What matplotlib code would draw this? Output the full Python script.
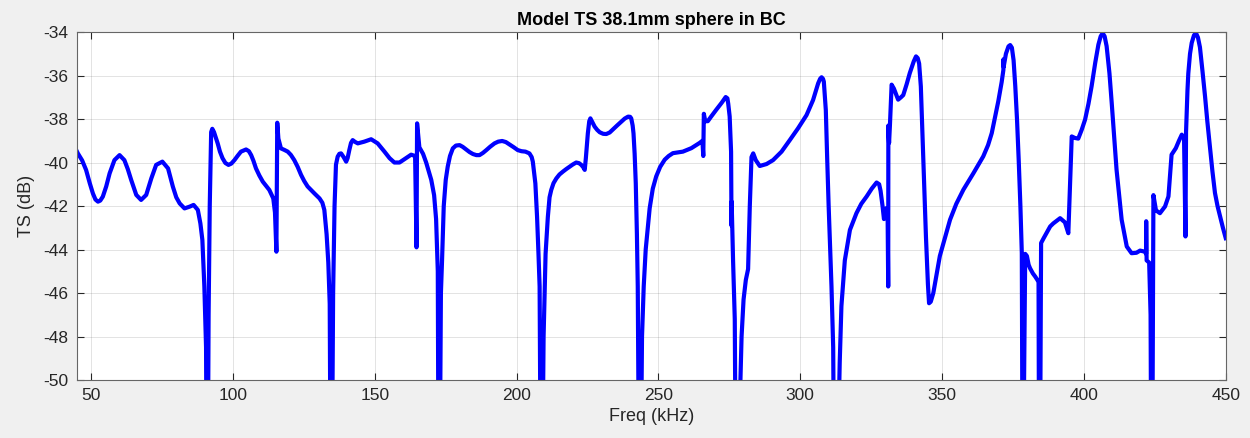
import matplotlib
matplotlib.use("Agg")
import matplotlib.pyplot as plt

# Target strength of a 38.1 mm sphere (model) in
# five stretches. -60 marks points where the curve drops off the bottom.
f_seg1 = [45.0, 45.3, 46.8, 48.2, 49.5, 50.6, 51.5, 52.4, 53.2, 54.1,
          55.3, 56.5, 58.2, 60.0, 61.7, 62.9, 64.1, 65.9, 67.6, 69.4,
          71.2, 72.9, 75.1, 77.1, 78.8, 80.0, 81.2, 82.9, 84.7, 86.1,
          87.6, 88.5, 89.2, 89.9, 90.5, 90.9, 91.4, 91.8, 92.3, 92.7,
          93.3, 94.6, 95.4, 96.3, 97.3, 98.4, 99.4, 100.5, 101.7, 102.8,
          104.6, 105.6, 106.4, 107.2, 108.1, 109.3, 110.5, 112.8, 114.2, 114.8,
          115.3, 115.6, 116.0, 116.9, 118.1, 119.3, 120.4, 121.6, 122.8, 124.0,
          125.1, 126.3, 128.7, 130.5, 131.5, 132.2, 133.0, 133.6, 134.1, 134.6]
ts_seg1 = [-39.5, -39.58, -39.9, -40.34, -40.95, -41.42, -41.7, -41.8, -41.75, -41.57,
           -41.1, -40.5, -39.89, -39.66, -39.89, -40.3, -40.8, -41.49, -41.72, -41.49,
           -40.73, -40.11, -39.96, -40.27, -41.11, -41.6, -41.88, -42.11, -42.03, -41.95,
           -42.18, -42.8, -43.56, -45.7, -48.5, -60.0, -47.0, -42.0, -38.6, -38.45,
           -38.6, -39.12, -39.5, -39.8, -40.02, -40.11, -40.05, -39.89, -39.68, -39.5,
           -39.4, -39.48, -39.66, -39.92, -40.27, -40.6, -40.88, -41.26, -41.65, -42.3,
           -44.1, -38.17, -38.9, -39.35, -39.42, -39.5, -39.65, -39.89, -40.2, -40.57,
           -40.85, -41.1, -41.42, -41.65, -41.85, -42.18, -43.3, -44.6, -46.5, -60.0]

f_seg2 = [135.3, 135.8, 136.3, 136.9, 137.5, 138.1, 139.0, 139.9, 140.4, 141.0,
          141.6, 142.2, 143.0, 144.0, 146.3, 148.7, 151.0, 153.4, 155.2, 156.9,
          158.7, 161.0, 162.8, 164.2, 164.7, 164.9, 165.7, 167.0, 168.1, 169.9,
          170.9, 171.6, 172.2, 172.6, 173.3, 173.7, 174.3, 175.0, 175.7, 176.5,
          177.5, 178.6, 179.9, 181.0, 182.2, 183.4, 184.6, 185.8, 186.9, 188.1,
          189.3, 190.7, 192.2, 193.5, 194.9, 196.2, 197.5, 199.0, 200.4, 201.7,
          203.1, 204.5, 205.3, 205.7, 206.6, 207.2, 207.7, 208.1, 208.7, 209.5,
          210.2, 211.0, 211.6, 212.2, 213.0, 214.0, 215.1, 216.3, 217.5, 218.7,
          219.8, 221.0, 222.0, 222.8, 223.5, 224.0, 224.4, 225.1, 225.6, 226.0,
          226.7, 227.5, 228.4, 229.3, 230.5, 231.6, 232.8, 234.0, 235.4, 236.9,
          238.1, 239.3, 240.0, 240.4, 240.9, 241.2, 241.6, 242.0, 242.4, 242.7,
          243.4]
ts_seg2 = [-46.0, -42.0, -40.1, -39.73, -39.6, -39.58, -39.75, -39.96, -39.8, -39.43,
           -39.1, -38.97, -39.05, -39.12, -39.04, -38.93, -39.12, -39.5, -39.8, -40.0,
           -40.0, -39.8, -39.64, -39.7, -43.9, -38.2, -39.3, -39.6, -40.0, -40.8,
           -41.5, -42.6, -45.0, -60.0, -46.0, -44.5, -42.0, -40.8, -40.19, -39.7,
           -39.35, -39.22, -39.2, -39.28, -39.4, -39.52, -39.61, -39.66, -39.66, -39.56,
           -39.43, -39.27, -39.12, -39.04, -39.01, -39.06, -39.17, -39.3, -39.43, -39.48,
           -39.5, -39.58, -39.75, -39.96, -40.96, -42.5, -44.2, -45.7, -60.0, -48.0,
           -44.2, -42.5, -41.6, -41.26, -40.95, -40.73, -40.55, -40.42, -40.3, -40.19,
           -40.09, -40.0, -40.03, -40.11, -40.22, -40.34, -39.8, -38.66, -38.1, -37.97,
           -38.15, -38.35, -38.5, -38.61, -38.68, -38.69, -38.62, -38.47, -38.3, -38.12,
           -37.98, -37.89, -37.9, -37.97, -38.3, -38.66, -39.6, -40.96, -43.3, -45.7,
           -60.0]

f_seg3 = [244.2, 244.8, 245.5, 246.3, 246.9, 248.0, 249.2, 250.6, 252.2, 253.6,
          255.1, 258.6, 261.6, 264.5, 265.5, 265.8, 266.0, 266.5, 267.4, 268.5,
          270.4, 272.3, 273.7, 274.3, 274.6, 275.1, 275.6, 275.7, 275.75, 275.8,
          276.3, 276.9, 277.5, 278.5, 279.3, 280.0, 280.8, 281.6, 282.2, 282.8,
          283.4, 284.3, 285.7, 288.1, 290.4, 293.4, 296.3, 299.2, 302.2, 304.5,
          305.5, 306.3, 307.0, 307.5, 308.0, 308.3, 309.0, 309.5, 310.0, 310.5,
          311.0, 311.6, 312.2]
ts_seg3 = [-48.0, -45.7, -44.0, -42.9, -42.1, -41.2, -40.64, -40.2, -39.87, -39.7,
           -39.57, -39.5, -39.34, -39.1, -39.0, -39.7, -37.76, -38.1, -38.1, -37.9,
           -37.57, -37.25, -36.99, -37.05, -37.3, -37.88, -39.5, -42.2, -42.9, -41.8,
           -44.5, -47.2, -60.0, -52.0, -48.0, -46.3, -45.4, -44.9, -42.0, -39.75,
           -39.58, -39.89, -40.16, -40.07, -39.89, -39.5, -38.97, -38.43, -37.82, -37.13,
           -36.7, -36.36, -36.15, -36.08, -36.15, -36.28, -37.59, -39.89, -42.0, -43.8,
           -45.7, -48.5, -60.0]

f_seg4 = [313.0, 313.9, 314.5, 315.7, 317.5, 319.8, 321.5, 323.4, 325.2, 326.9,
          327.8, 328.3, 329.0, 329.5, 330.3, 330.8, 331.0, 331.05, 331.3, 331.6,
          332.2, 333.0, 334.5, 335.5, 336.3, 337.5, 338.6, 340.0, 340.8, 341.4,
          341.9, 342.5, 343.3, 344.3, 345.0, 345.4, 346.0, 346.9, 349.2, 352.8,
          355.0, 357.5, 361.0, 364.5, 366.2, 367.5, 369.8, 371.0, 371.6, 371.65,
          371.7, 372.5, 373.4, 374.0, 374.6, 375.2, 375.8, 376.4, 377.0, 377.6,
          378.1, 378.5]
ts_seg4 = [-55.0, -49.2, -46.6, -44.5, -43.1, -42.33, -41.9, -41.56, -41.2, -40.92,
           -41.0, -41.3, -42.0, -42.6, -42.1, -42.6, -45.7, -38.3, -39.1, -38.3,
           -36.42, -36.6, -37.11, -37.0, -36.9, -36.4, -35.89, -35.35, -35.12, -35.2,
           -35.45, -36.5, -39.57, -43.4, -45.6, -46.47, -46.4, -46.0, -44.3, -42.63,
           -41.9, -41.25, -40.5, -39.72, -39.2, -38.65, -37.19, -36.3, -35.75, -35.25,
           -35.6, -35.0, -34.66, -34.6, -34.72, -35.3, -36.5, -38.0, -39.87, -42.0,
           -44.17, -60.0]

f_seg5 = [378.9, 379.3, 379.9, 380.5, 381.0, 382.0, 382.8, 383.6, 384.0, 384.3,
          384.9, 385.8, 388.1, 389.2, 391.6, 393.3, 394.5, 395.1, 395.7, 396.8,
          398.0, 399.2, 400.4, 401.6, 402.7, 404.0, 405.1, 405.9, 406.6, 407.3,
          408.0, 409.0, 409.8, 410.7, 411.5, 413.3, 415.1, 416.8, 418.5, 419.8,
          421.5, 421.9, 421.95, 422.1, 423.0, 423.5, 423.9, 424.4, 424.5, 425.0,
          425.4, 426.8, 428.6, 429.8, 430.4, 430.9, 432.4, 433.5, 434.5, 435.3,
          435.8, 436.0, 436.5, 436.8, 437.4, 438.0, 438.8, 439.5, 440.2, 440.9,
          441.8, 442.7, 443.5, 444.4, 445.3, 446.2, 447.1, 448.0, 449.0, 450.0]
ts_seg5 = [-50.0, -44.2, -44.3, -44.7, -44.86, -45.1, -45.24, -45.4, -45.5, -60.0,
           -43.7, -43.48, -42.94, -42.8, -42.56, -42.75, -43.25, -41.0, -38.8, -38.87,
           -38.9, -38.5, -38.03, -37.3, -36.5, -35.4, -34.58, -34.2, -34.05, -34.2,
           -34.65, -35.9, -37.27, -38.9, -40.33, -42.63, -43.86, -44.17, -44.15, -44.05,
           -44.1, -44.2, -42.7, -44.5, -44.6, -47.0, -60.0, -45.0, -41.5, -41.9,
           -42.2, -42.33, -42.02, -41.56, -40.5, -39.64, -39.34, -39.0, -38.72, -38.9,
           -43.4, -38.6, -36.7, -35.9, -35.0, -34.5, -34.15, -34.05, -34.25, -34.7,
           -35.8, -36.96, -38.1, -39.26, -40.4, -41.4, -42.0, -42.48, -43.0, -43.48]

freq_khz = f_seg1 + f_seg2 + f_seg3 + f_seg4 + f_seg5
ts_db = ts_seg1 + ts_seg2 + ts_seg3 + ts_seg4 + ts_seg5
assert len(freq_khz) == len(ts_db)

x_ticks = list(range(50, 451, 50))
y_ticks = list(range(-50, -33, 2))

TEXT = "#262626"
plt.rcParams["font.family"] = ["Liberation Sans", "DejaVu Sans"]
plt.rcParams["axes.unicode_minus"] = False  # MATLAB-style plain hyphen

fig = plt.figure(figsize=(12.5, 4.38), dpi=100)
fig.patch.set_facecolor("#f0f0f0")
ax = fig.add_axes([0.0616, 0.1324, 0.919, 0.7945])
ax.set_facecolor("white")

ax.plot(freq_khz, ts_db, color="#0000ff", lw=3.0, solid_joinstyle="round")

ax.set_xlim(45, 450)
ax.set_ylim(-50, -34)
ax.set_xticks(x_ticks)
ax.set_yticks(y_ticks)
ax.grid(True, color=TEXT, alpha=0.13, lw=0.7)
ax.tick_params(direction="in", length=5, width=0.8, colors=TEXT, labelsize=12.5,
               top=True, right=True, pad=6)
for s in ax.spines.values():
    s.set_color("#666666")
    s.set_linewidth(0.8)

ax.set_title("Model TS 38.1mm sphere in BC", fontsize=13, fontweight="bold",
             color="black", pad=5)
ax.set_xlabel("Freq (kHz)", fontsize=13, color=TEXT, labelpad=3)
ax.set_ylabel("TS (dB)", fontsize=13, color=TEXT, labelpad=6)

fig.savefig("out.png", dpi=100, facecolor=fig.get_facecolor())
